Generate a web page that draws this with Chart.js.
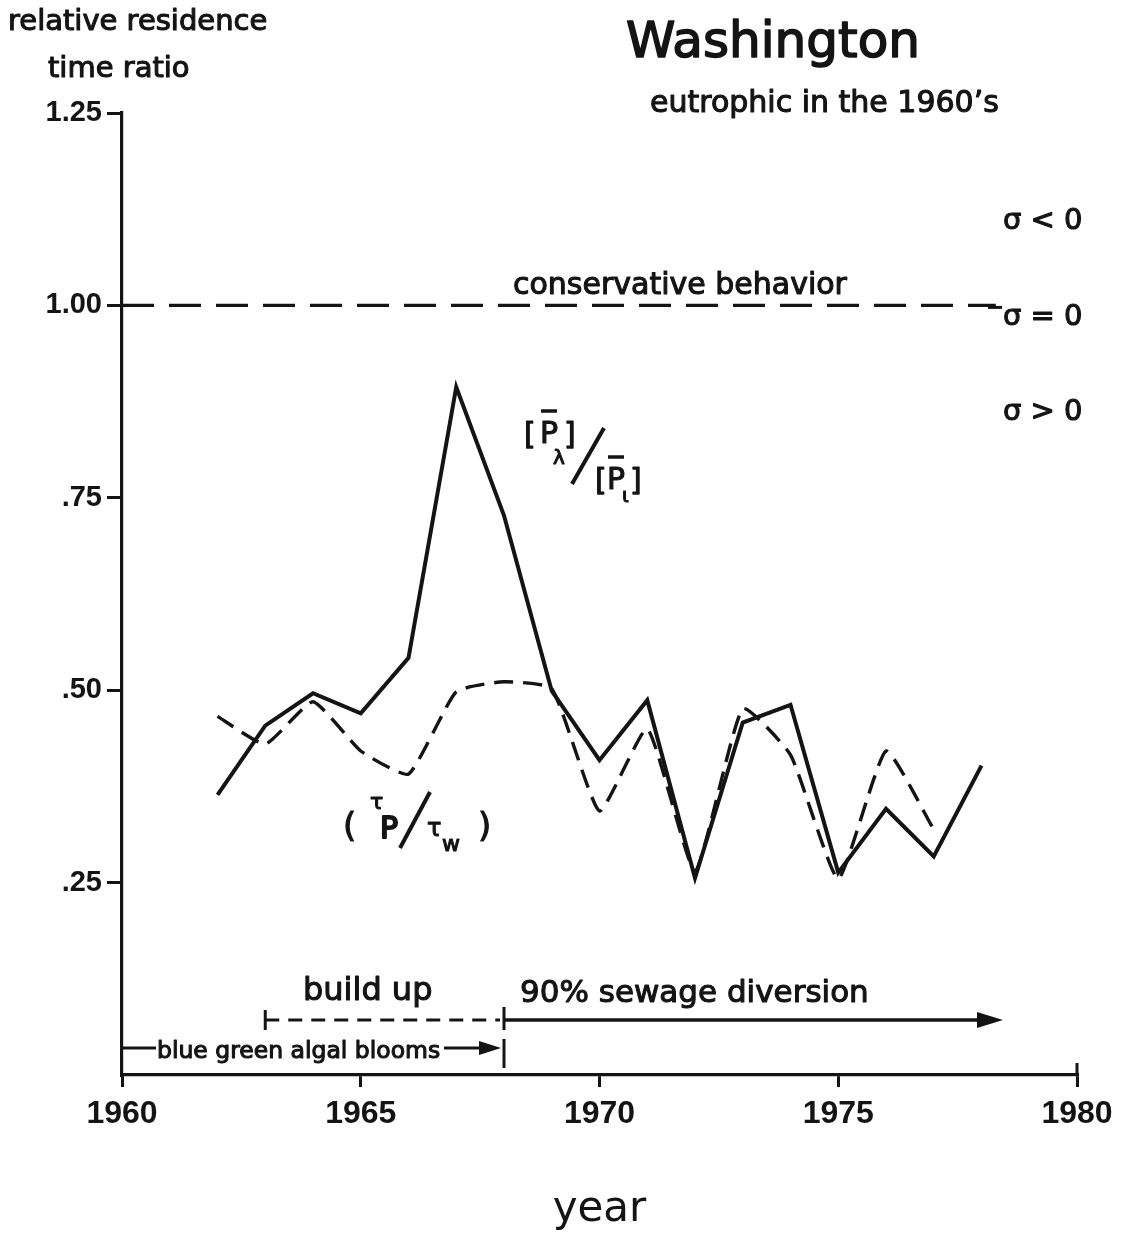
<!DOCTYPE html>
<html>
<head>
<meta charset="utf-8">
<script src="https://cdn.jsdelivr.net/npm/chart.js@4.4.1/dist/chart.umd.min.js"></script>
<style>
  html, body { margin: 0; padding: 0; background: #ffffff; }
  #wrap { width: 1125px; height: 1235px; }
</style>
</head>
<body>
<div id="wrap"><canvas id="chart" width="1125" height="1235"></canvas></div>
<script>
// Lake Washington: relative residence time ratios by year
const phosphorusYears = [1962, 1963, 1964, 1965, 1966, 1967, 1968, 1969, 1970, 1971, 1972, 1973, 1974, 1975, 1976, 1977, 1978];
const phosphorusRatio = [0.364, 0.454, 0.496, 0.470, 0.542, 0.894, 0.727, 0.499, 0.409, 0.487, 0.256, 0.458, 0.481, 0.263, 0.346, 0.284, 0.402];

const residenceYears = [1962, 1963, 1964, 1965, 1966, 1967, 1968, 1969, 1970, 1971, 1972, 1973, 1974, 1975, 1976, 1977];
const residenceRatio = [0.466, 0.430, 0.485, 0.421, 0.391, 0.498, 0.511, 0.502, 0.343, 0.450, 0.265, 0.476, 0.416, 0.255, 0.421, 0.319];

const conservativeYears = [1960, 1978.3];
const conservativeRatio = [1.0, 1.0];

const xTickValues = [1960, 1965, 1970, 1975, 1980];
const yTickValues = [0.25, 0.50, 0.75, 1.00, 1.25];
const yTickLabels = ['.25', '.50', '.75', '1.00', '1.25'];

// periods marked under the curves
const buildUpStart = 1963;
const diversionStart = 1968;
const diversionArrowEnd = 1978.45;
const bloomStart = 1960;
const bloomEnd = 1968;

const INK = '#141414';
const FACE = '"DejaVu Sans", "Liberation Sans", sans-serif';

const toPoints = (xs, ys) => xs.map((v, i) => ({ x: v, y: ys[i] }));

const notes = {
  id: 'notes',
  afterDraw(chart) {
    const { ctx, scales: { x, y } } = chart;
    const X = v => x.getPixelForValue(v);
    const Y = v => y.getPixelForValue(v);
    const base = y.bottom;

    ctx.save();
    ctx.fillStyle = INK;
    ctx.strokeStyle = INK;
    ctx.lineCap = 'butt';
    ctx.lineJoin = 'round';

    const text = (s, px, py, size, align = 'left', heavy = 1.1) => {
      ctx.font = size + 'px ' + FACE;
      ctx.textAlign = align;
      ctx.textBaseline = 'alphabetic';
      ctx.fillText(s, px, py);
      if (heavy > 0) {
        ctx.setLineDash([]);
        ctx.lineWidth = heavy;
        ctx.strokeText(s, px, py);
      }
    };
    const line = (x1, y1, x2, y2, w = 3, dash = []) => {
      ctx.setLineDash(dash);
      ctx.lineWidth = w;
      ctx.beginPath();
      ctx.moveTo(x1, y1);
      ctx.lineTo(x2, y2);
      ctx.stroke();
      ctx.setLineDash([]);
    };
    const head = (tipX, cy, len, half) => {
      ctx.beginPath();
      ctx.moveTo(tipX, cy);
      ctx.lineTo(tipX - len, cy - half);
      ctx.lineTo(tipX - len, cy + half);
      ctx.closePath();
      ctx.fill();
    };

    // axis caption and titles
    text('relative residence', 8, 30, 29);
    text('time ratio', 48, 77, 29);
    text('Washington', 773, 57, 50, 'center', 1.6);
    text('eutrophic in the 1960\u2019s', 650, 112, 30);

    // closing tick at the right end of the year axis
    line(X(1980), base + 1, X(1980), base - 12, 3);

    // behaviour zones on the right
    const one = Y(1.0);
    text('conservative behavior', 513, one - 11, 30);
    text('\u03c3 < 0', 1003, one - 76, 29);
    line(988, one + 2, 1002, one + 2, 3);
    text('\u03c3 = 0', 1003, one + 20, 29);
    text('\u03c3 > 0', 1003, one + 115, 29);

    // label of the solid curve: [P\u0304\u03bb]/[P\u0304\u03b9]
    text('[', 524, 444, 30);
    text('P', 540, 443, 30);
    line(541, 411, 557, 411, 3.5);
    text(']', 564, 444, 30);
    text('\u03bb', 553, 464, 20);
    line(572, 484, 604, 428, 4);
    text('[', 595, 490, 30);
    text('P', 607, 489, 30);
    line(608, 457, 624, 457, 3.5);
    text(']', 630, 490, 30);
    text('\u03b9', 622, 502, 20);

    // label of the dashed curve: ( \u03c4P / \u03c4w )
    text('(', 343, 837, 34);
    text('\u03c4', 370, 809, 22);
    text('P', 380, 838, 30, 'left', 2);
    line(400, 848, 430, 792, 4);
    text('\u03c4', 427, 836, 24);
    text('w', 442, 851, 22);
    text(')', 478, 837, 34);

    // build up (dashed bracket) and sewage diversion (arrow)
    const armY = base - 55;
    text('build up', 303, base - 75, 32);
    line(X(buildUpStart), armY - 10, X(buildUpStart), armY + 10, 3);
    line(X(buildUpStart), armY, X(diversionStart) - 4, armY, 3, [14, 9]);
    line(X(diversionStart), armY - 13, X(diversionStart), armY + 10, 3);
    text('90% sewage diversion', 520, base - 73, 31);
    line(X(diversionStart), armY, X(diversionArrowEnd) - 20, armY, 3.5);
    head(X(diversionArrowEnd), armY, 26, 8);

    // blue green algal blooms
    const bloomY = base - 27;
    line(X(bloomStart), bloomY, X(bloomStart) + 34, bloomY, 3);
    text('blue green algal blooms', X(bloomStart) + 35, base - 17, 23.5);
    line(X(bloomEnd) - 60, bloomY, X(bloomEnd) - 18, bloomY, 3);
    head(X(bloomEnd) - 3, bloomY, 22, 7);
    line(X(bloomEnd), base - 36, X(bloomEnd), base - 7, 3);

    ctx.restore();
  }
};

Chart.defaults.font.family = FACE;
Chart.defaults.color = INK;

new Chart(document.getElementById('chart'), {
  type: 'line',
  data: {
    datasets: [
      {
        label: 'conservative behavior',
        data: toPoints(conservativeYears, conservativeRatio),
        borderColor: INK,
        borderWidth: 3.2,
        borderDash: [32, 15],
        pointRadius: 0,
        tension: 0
      },
      {
        label: '[P\u03bb]/[P\u03b9]',
        data: toPoints(phosphorusYears, phosphorusRatio),
        borderColor: INK,
        borderWidth: 4,
        pointRadius: 0,
        tension: 0,
        borderJoinStyle: 'miter'
      },
      {
        label: '\u03c4P/\u03c4w',
        data: toPoints(residenceYears, residenceRatio),
        borderColor: INK,
        borderWidth: 3.4,
        borderDash: [19, 10],
        pointRadius: 0,
        tension: 0.15
      }
    ]
  },
  options: {
    responsive: false,
    animation: false,
    events: [],
    layout: { padding: { top: 113, right: 48, bottom: 0, left: 0 } },
    plugins: {
      legend: { display: false },
      tooltip: { enabled: false },
      title: { display: false }
    },
    scales: {
      x: {
        type: 'linear',
        min: 1960,
        max: 1980,
        afterBuildTicks: s => { s.ticks = xTickValues.map(v => ({ value: v })); },
        afterFit: s => { s.height = 160; },
        ticks: {
          callback: v => String(v),
          font: { size: 32, weight: 'bold', family: '"Liberation Sans", sans-serif' },
          color: INK,
          padding: 8,
          maxRotation: 0
        },
        grid: { drawOnChartArea: false, drawTicks: true, tickLength: 12, color: INK, lineWidth: 3 },
        border: { display: true, color: INK, width: 3.2 },
        title: {
          display: true,
          text: 'year',
          font: { size: 42, family: FACE },
          color: INK,
          padding: { top: 0, bottom: 0 }
        }
      },
      y: {
        type: 'linear',
        min: 0,
        max: 1.25,
        afterBuildTicks: s => { s.ticks = yTickValues.map(v => ({ value: v })); },
        afterFit: s => { s.width = 122; },
        ticks: {
          callback: v => yTickLabels[yTickValues.findIndex(t => Math.abs(t - v) < 1e-6)],
          font: { size: 29, weight: 'bold', family: '"Liberation Sans", sans-serif' },
          color: INK,
          padding: 5
        },
        grid: { drawOnChartArea: false, drawTicks: true, tickLength: 15, color: INK, lineWidth: 3 },
        border: { display: true, color: INK, width: 3.2 }
      }
    }
  },
  plugins: [notes]
});
</script>
</body>
</html>
